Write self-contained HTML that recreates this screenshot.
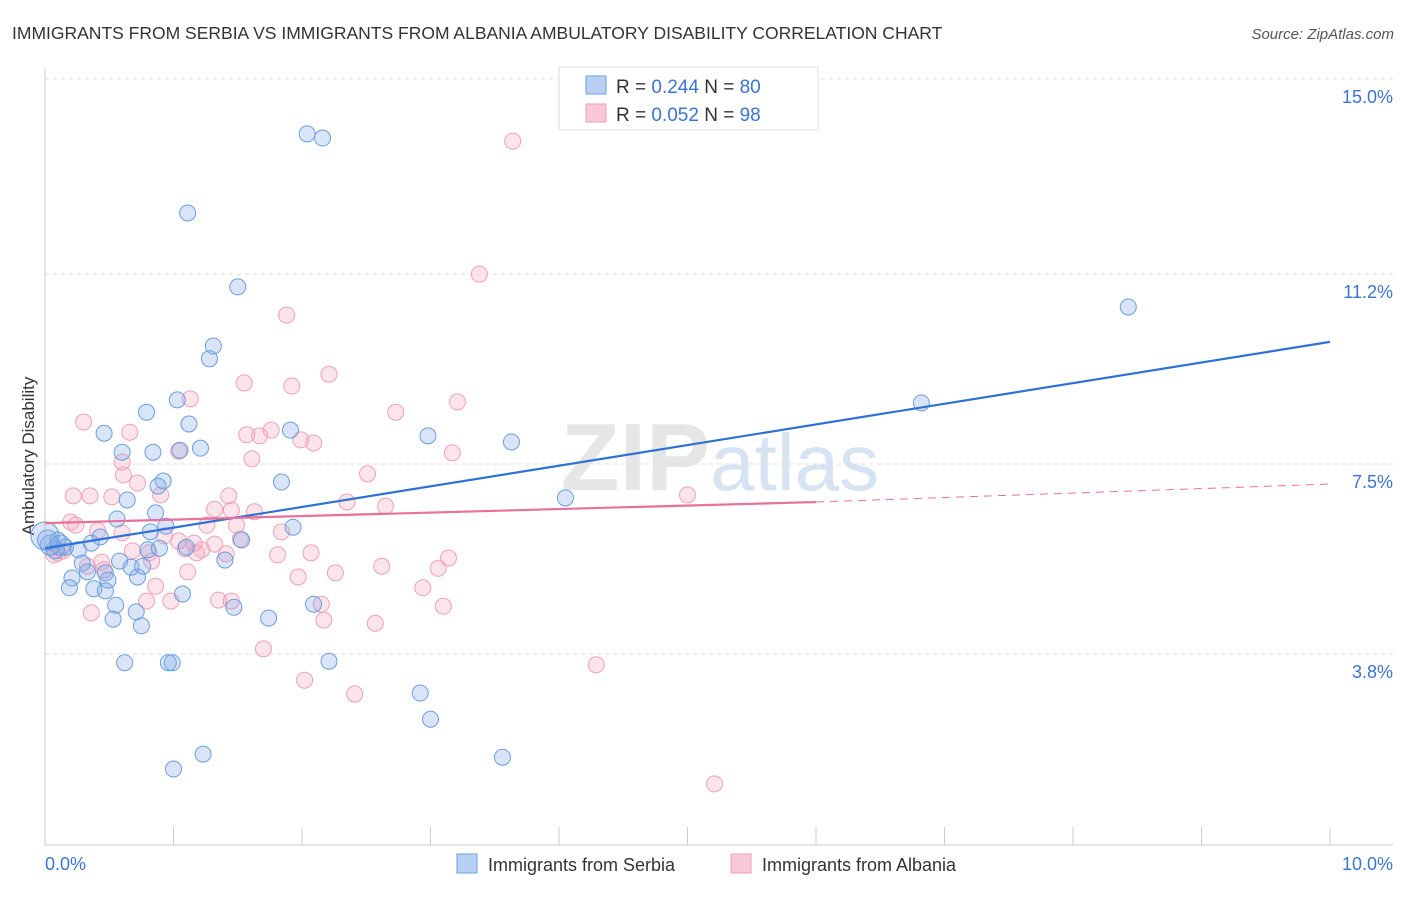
<!DOCTYPE html>
<html><head><meta charset="utf-8"><style>
body{margin:0;background:#fff;font-family:"Liberation Sans",sans-serif;}
svg text{font-family:"Liberation Sans",sans-serif;}
</style></head><body>
<svg id="chart" width="1406" height="892" viewBox="0 0 1406 892" xmlns="http://www.w3.org/2000/svg">
<text x="12" y="39" font-size="17.5" fill="#333">IMMIGRANTS FROM SERBIA VS IMMIGRANTS FROM ALBANIA AMBULATORY DISABILITY CORRELATION CHART</text>
<text x="1394" y="39" font-size="15" fill="#555" text-anchor="end" font-style="italic">Source: ZipAtlas.com</text>
<text x="720" y="490" font-size="96" fill="#e6e6e6" text-anchor="middle" font-family="Liberation Serif" font-weight="bold">ZIP<tspan fill="#d6e3f3" font-family="Liberation Sans" font-weight="normal" font-size="80">atlas</tspan></text>
<text transform="translate(34,456) rotate(-90)" font-size="17" fill="#333" text-anchor="middle">Ambulatory Disability</text>
<g id="grid"></g><g id="axes"></g><g id="trends"></g><g id="pts"></g>
<g>
<rect x="559" y="67" width="259" height="63" fill="#fff" stroke="#ddd"/>
<rect x="586" y="76" width="20" height="18" fill="#b8d0f3" stroke="#6a9fe0"/>
<text x="616" y="93" font-size="19" fill="#333">R = <tspan fill="#3a74d0">0.244</tspan>   N = <tspan fill="#3a74d0">80</tspan></text>
<rect x="586" y="104" width="20" height="18" fill="#f9c8d8" stroke="#f0a0b8"/>
<text x="616" y="121" font-size="19" fill="#333">R = <tspan fill="#3a74d0">0.052</tspan>   N = <tspan fill="#3a74d0">98</tspan></text>
</g>
<g>
<rect x="457" y="854" width="20" height="19" fill="#b8d0f3" stroke="#6a9fe0"/>
<text x="488" y="871" font-size="18" fill="#333">Immigrants from Serbia</text>
<rect x="731" y="854" width="20" height="19" fill="#f9c8d8" stroke="#f0a0b8"/>
<text x="762" y="871" font-size="18" fill="#333">Immigrants from Albania</text>
</g>
</svg>
<script>
const yTicks=[15.0,11.2,7.5,3.8];
const yTickLabels=["15.0%","11.2%","7.5%","3.8%"];
const xTickLabels=["0.0%","10.0%"];
const serbiaX=[2.04,2.16,1.11,1.50,8.43,1.31,1.28,6.82,1.03,0.79,0.46,1.12,1.91,2.98,3.63,0.60,0.84,1.05,1.21,1.84,0.92,0.88,0.64,4.05,0.86,0.56,0.94,0.82,1.53,1.93,0.43,0.36,0.10,0.16,0.26,0.80,0.89,1.10,1.40,0.29,0.58,0.67,0.76,0.33,0.47,0.21,0.49,0.72,0.19,0.38,0.47,1.07,0.55,1.47,2.09,0.71,0.53,0.75,1.74,0.62,0.96,0.99,2.21,2.92,3.00,1.23,3.56,1.00,0.08,0.04,0.12,0.02,0.0];
const serbiaY=[13.93,13.85,12.39,10.95,10.56,9.80,9.55,8.69,8.75,8.51,8.10,8.28,8.16,8.05,7.93,7.73,7.73,7.77,7.81,7.15,7.17,7.07,6.80,6.84,6.55,6.43,6.29,6.18,6.02,6.27,6.08,5.96,6.02,5.88,5.83,5.83,5.86,5.88,5.63,5.57,5.61,5.49,5.51,5.40,5.38,5.28,5.24,5.30,5.09,5.07,5.03,4.97,4.75,4.71,4.77,4.62,4.48,4.35,4.50,3.63,3.63,3.63,3.66,3.04,2.53,1.85,1.79,1.56,5.83,5.92,5.92,6.02,6.10];
const serbiaR=[8,8,8,8,8,8,8,8,8,8,8,8,8,8,8,8,8,8,8,8,8,8,8,8,8,8,8,8,8,8,8,8,8,8,8,8,8,8,8,8,8,8,8,8,8,8,8,8,8,8,8,8,8,8,8,8,8,8,8,8,8,8,8,8,8,8,8,8,9,10,10,10,14];
const albaniaX=[3.64,3.38,1.88,2.21,1.55,1.92,1.13,3.21,2.73,0.30,0.66,1.76,1.57,1.67,1.99,2.09,3.17,1.04,0.60,1.61,0.61,0.72,2.51,0.22,0.35,0.52,0.90,5.00,2.35,2.65,1.32,1.45,1.43,1.63,0.20,0.24,0.41,1.26,1.49,1.84,0.60,0.93,1.04,1.52,1.16,1.32,1.09,1.22,0.81,0.68,0.14,0.10,0.07,0.44,0.83,0.33,1.81,2.07,3.14,1.18,1.41,2.62,3.06,0.46,1.11,2.26,1.97,0.86,2.94,1.35,0.79,0.98,1.45,2.15,0.36,3.10,2.17,2.57,1.70,4.29,2.02,2.41,5.21];
const albaniaY=[13.79,11.20,10.40,9.25,9.08,9.02,8.77,8.71,8.51,8.32,8.12,8.16,8.07,8.05,7.97,7.91,7.72,7.75,7.54,7.60,7.29,7.13,7.31,6.88,6.88,6.86,6.90,6.90,6.76,6.68,6.62,6.60,6.88,6.57,6.37,6.31,6.20,6.31,6.31,6.18,6.16,6.10,6.00,6.04,5.96,5.94,5.85,5.83,5.77,5.81,5.81,5.77,5.73,5.59,5.61,5.51,5.73,5.77,5.67,5.77,5.75,5.51,5.47,5.44,5.40,5.38,5.30,5.12,5.09,4.85,4.83,4.83,4.83,4.77,4.60,4.73,4.46,4.40,3.90,3.59,3.29,3.02,1.27];
const serbiaTrendX=[0,10];
const serbiaTrendY=[5.86,9.88];
const albaniaTrendX=[0,6,10];
const albaniaTrendY=[6.35,6.76,7.11];
const X0=45,X1=1330,YTOP=79,PXPER=51.34;
function xs(v){return X0+(X1-X0)*v/10;}
function ys(v){return YTOP+(15-v)*PXPER;}
const NS="http://www.w3.org/2000/svg";
function mk(t,a,p){const e=document.createElementNS(NS,t);for(const k in a)e.setAttribute(k,a[k]);p.appendChild(e);return e;}
const grid=document.getElementById('grid'),axes=document.getElementById('axes'),trends=document.getElementById('trends'),pts=document.getElementById('pts');
yTicks.forEach((t,i)=>{
 const l=mk('line',{x1:45,x2:1393,y1:ys(t),y2:ys(t),stroke:'#ddd','stroke-dasharray':'4,4'},grid);
 
 
 const tx=mk('text',{x:1393,y:ys(t)+24,'font-size':18,fill:'#3a74d0','text-anchor':'end'},grid);
 tx.textContent=yTickLabels[i];
 
 
});
const ya=mk('line',{x1:45,x2:45,y1:68,y2:845,stroke:'#ccc'},axes);


const xa=mk('line',{x1:45,x2:1393,y1:845,y2:845,stroke:'#ccc'},axes);


for(let i=0;i<=10;i++){
 const t=mk('line',{x1:xs(i),x2:xs(i),y1:827,y2:845,stroke:'#ccc'},axes);
 
 
}
[[0,'start',45],[10,'end',1393]].forEach((d,i)=>{
 const tx=mk('text',{x:d[2],y:870,'font-size':18,fill:'#3a74d0','text-anchor':d[1]},axes);
 tx.textContent=xTickLabels[i];
 
 
});
function dots(X,Y,R,fill,stroke,name){
 X.forEach((x,i)=>{
  const c=mk('circle',{cx:xs(x),cy:ys(Y[i]),r:R?R[i]:8,fill:fill,stroke:stroke,'stroke-width':1},pts);
  
  
 });
}
dots(albaniaX,albaniaY,null,'rgba(245,165,190,0.3)','#f0a0b8','point-albania');
dots(serbiaX,serbiaY,serbiaR,'rgba(130,170,230,0.3)','#6a9fe0','point-serbia');
const sl=mk('line',{x1:xs(serbiaTrendX[0]),y1:ys(serbiaTrendY[0]),x2:xs(serbiaTrendX[1]),y2:ys(serbiaTrendY[1]),stroke:'#2f72d6','stroke-width':2.2},trends);


const al=mk('line',{x1:xs(albaniaTrendX[0]),y1:ys(albaniaTrendY[0]),x2:xs(albaniaTrendX[1]),y2:ys(albaniaTrendY[1]),stroke:'#e8709a','stroke-width':2.2},trends);


const ad=mk('line',{x1:xs(albaniaTrendX[1]),y1:ys(albaniaTrendY[1]),x2:xs(albaniaTrendX[2]),y2:ys(albaniaTrendY[2]),stroke:'#e8709a','stroke-width':1,'stroke-dasharray':'8,6'},trends);


document.getElementById('chart').appendChild(trends);
</script>
</body></html>
